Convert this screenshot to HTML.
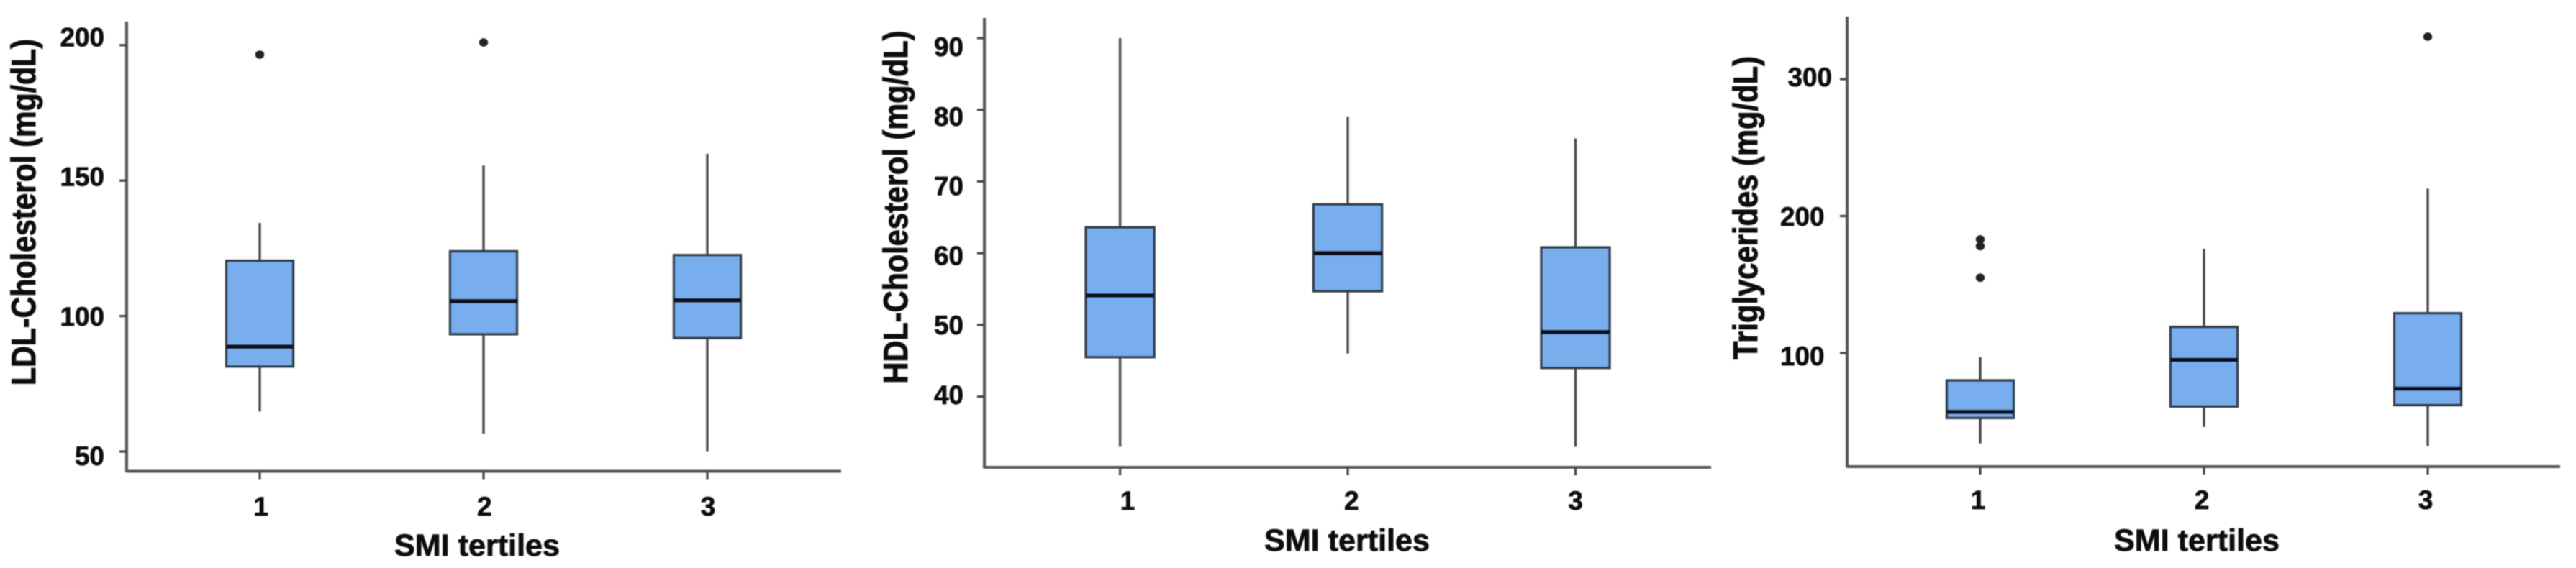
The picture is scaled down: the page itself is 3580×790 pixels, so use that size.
<!DOCTYPE html>
<html>
<head>
<meta charset="utf-8">
<style>
html,body{margin:0;padding:0;background:#fff;}
svg{display:block;}
text{font-family:"Liberation Sans",sans-serif;font-weight:700;fill:#0c0c0c;stroke:#0c0c0c;}
.tick-label{font-size:37px;stroke-width:0.7px;}
.axis-title{font-size:43px;stroke-width:0.8px;}
.y-title{font-size:47px;stroke-width:1px;}
</style>
</head>
<body>
<svg id="figure" width="3580" height="790" viewBox="0 0 3580 790" xmlns="http://www.w3.org/2000/svg">
  <defs>
    <filter id="soft" x="-5%" y="-5%" width="110%" height="110%"><feGaussianBlur stdDeviation="0.7"/></filter>
  </defs>
  <rect width="3580" height="790" fill="#fff"/>
  <g id="root" filter="url(#soft)">
    <g id="chart-ldl">
      <text class="y-title" transform="translate(49,295) rotate(-90)" text-anchor="middle" textLength="482" lengthAdjust="spacingAndGlyphs">LDL-Cholesterol (mg/dL)</text>
      <text class="axis-title" x="663" y="773" text-anchor="middle" textLength="230" lengthAdjust="spacingAndGlyphs">SMI tertiles</text>
    </g>
    <g id="chart-hdl">
      <text class="y-title" transform="translate(1261,288) rotate(-90)" text-anchor="middle" textLength="491" lengthAdjust="spacingAndGlyphs">HDL-Cholesterol (mg/dL)</text>
      <text class="axis-title" x="1872" y="766" text-anchor="middle" textLength="230" lengthAdjust="spacingAndGlyphs">SMI tertiles</text>
    </g>
    <g id="chart-tg">
      <text class="y-title" transform="translate(2442,289) rotate(-90)" text-anchor="middle" textLength="422" lengthAdjust="spacingAndGlyphs">Triglycerides (mg/dL)</text>
      <text class="axis-title" x="3053" y="766" text-anchor="middle" textLength="230" lengthAdjust="spacingAndGlyphs">SMI tertiles</text>
    </g>
  </g>
</svg>
<script>
var categories = ['1', '2', '3'];

var ldlTicks = [200, 150, 100, 50];
var ldlLow = [64.8, 56.6, 50.1];
var ldlQ1 = [81.4, 93.3, 91.9];
var ldlMedian = [88.7, 105.5, 105.8];
var ldlQ3 = [120.4, 123.9, 122.5];
var ldlHigh = [134.4, 155.6, 159.9];
var ldlOutliers = [[196.5], [201], []];

var hdlTicks = [90, 80, 70, 60, 50, 40];
var hdlLow = [33, 46, 33];
var hdlQ1 = [45.5, 54.7, 44];
var hdlMedian = [54.1, 60, 49];
var hdlQ3 = [63.6, 66.8, 60.8];
var hdlHigh = [90, 79, 76];
var hdlOutliers = [[], [], []];

var tgTicks = [300, 200, 100];
var tgLow = [34, 46, 32];
var tgQ1 = [52.6, 61, 62];
var tgMedian = [57, 95, 74];
var tgQ3 = [80, 119, 129];
var tgHigh = [97, 176, 220];
var tgOutliers = [[183, 178, 155], [], [331]];

var NS = 'http://www.w3.org/2000/svg';

function make(parent, tag, attrs) {
  var el = document.createElementNS(NS, tag);
  for (var k in attrs) { el.setAttribute(k, attrs[k]); }
  parent.appendChild(el);
  return el;
}

function linear(v0, p0, v1, p1) {
  return function (v) { return p0 + (v - v0) * (p1 - p0) / (v1 - v0); };
}

function drawChart(id, frame, d) {
  var g = document.getElementById(id);
  var y = linear(frame.v0, frame.y0, frame.v1, frame.y1);
  var labelY = linear(frame.v0, frame.l0, frame.v1, frame.l1);
  var catX = linear(0, frame.c0, 2, frame.c2);
  var labelX = linear(0, frame.t0, 2, frame.t2);

  var yAxis = make(g, 'line', {x1: frame.left, x2: frame.left, y1: frame.top, y2: frame.bottom + 1.5, stroke: '#555', 'stroke-width': 4});
  
  
  var xAxis = make(g, 'line', {x1: frame.left, x2: frame.right, y1: frame.bottom, y2: frame.bottom, stroke: '#555', 'stroke-width': 4});
  
  

  d.ticks.forEach(function (t) {
    var tick = make(g, 'line', {x1: frame.left - 10, x2: frame.left, y1: y(t), y2: y(t), stroke: '#444', 'stroke-width': 3.2});
    
    
    var lab = make(g, 'text', {x: frame.labelRight(t), y: labelY(t), 'text-anchor': 'end', 'class': 'tick-label', textLength: String(t).length * 20.5, lengthAdjust: 'spacingAndGlyphs'});
    lab.textContent = t;
    
    
  });

  categories.forEach(function (c, i) {
    var x = catX(i);
    var tick = make(g, 'line', {x1: x, x2: x, y1: frame.bottom, y2: frame.bottom + 11, stroke: '#444', 'stroke-width': 3.2});
    
    
    var lab = make(g, 'text', {x: labelX(i), y: frame.catBase, 'text-anchor': 'middle', 'class': 'tick-label'});
    lab.textContent = c;
    
    

    var whisker = make(g, 'line', {x1: x, x2: x, y1: y(d.high[i]), y2: y(d.low[i]), stroke: '#4a4a4a', 'stroke-width': 3.4});
    
    
    var box = make(g, 'rect', {x: x - frame.boxW / 2, y: y(d.q3[i]), width: frame.boxW, height: y(d.q1[i]) - y(d.q3[i]), fill: '#78aeee', stroke: '#333c48', 'stroke-width': 3.4});
    
    
    var med = make(g, 'line', {x1: x - frame.boxW / 2, x2: x + frame.boxW / 2, y1: y(d.median[i]), y2: y(d.median[i]), stroke: '#0a101a', 'stroke-width': 6});
    
    
    d.outliers[i].forEach(function (o) {
      var dot = make(g, 'ellipse', {cx: x, cy: y(o), rx: 6.2, ry: 5.8, fill: '#222'});
      
      
    });
  });
}

drawChart('chart-ldl', {
  v0: 200, y0: 62.8, v1: 50, y1: 628, l0: 64.5, l1: 647,
  left: 176, right: 1169, top: 30, bottom: 655.5,
  c0: 361, c2: 983, t0: 362.7, t2: 984, catBase: 717, boxW: 93,
  labelRight: function () { return 145; }
}, {ticks: ldlTicks, low: ldlLow, q1: ldlQ1, median: ldlMedian, q3: ldlQ3, high: ldlHigh, outliers: ldlOutliers});

drawChart('chart-hdl', {
  v0: 90, y0: 53, v1: 40, y1: 551.6, l0: 78, l1: 562,
  left: 1368, right: 2378, top: 25, bottom: 650,
  c0: 1556.6, c2: 2189.5, t0: 1567, t2: 2189.5, catBase: 709, boxW: 95,
  labelRight: function () { return 1339; }
}, {ticks: hdlTicks, low: hdlLow, q1: hdlQ1, median: hdlMedian, q3: hdlQ3, high: hdlHigh, outliers: hdlOutliers});

drawChart('chart-tg', {
  v0: 300, y0: 110, v1: 100, y1: 491, l0: 120, l1: 508,
  left: 2567, right: 3558, top: 23, bottom: 649,
  c0: 2752, c2: 3374, t0: 2749, t2: 3371, catBase: 708, boxW: 93,
  labelRight: function (t) { return t === 300 ? 2546 : 2535.5; }
}, {ticks: tgTicks, low: tgLow, q1: tgQ1, median: tgMedian, q3: tgQ3, high: tgHigh, outliers: tgOutliers});
</script>
</body>
</html>
